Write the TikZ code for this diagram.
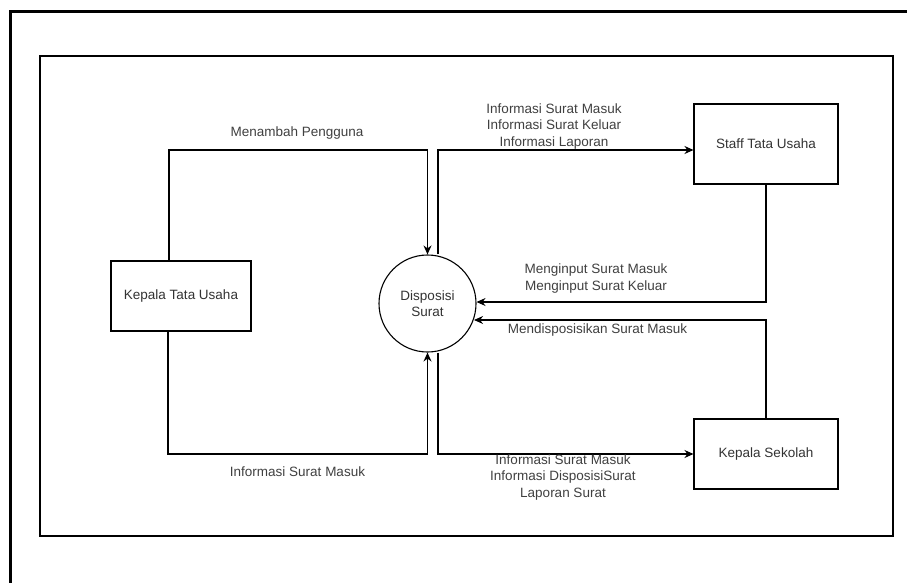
\documentclass[tikz,border=0pt]{standalone}
\usepackage{fontspec}
\setmainfont{Liberation Sans}
\usetikzlibrary{arrows.meta}
\begin{document}
\begin{tikzpicture}[x=1pt,y=-1pt,
  ent/.style={draw=black, line width=1.1pt, minimum width=140pt, minimum height=70pt,
    inner sep=0pt, font=\fontsize{13.5}{16}\selectfont, text=black!80},
  proc/.style={draw=black, circle, line width=1.1pt, minimum size=97pt, inner sep=0pt,
    align=center, font=\fontsize{13.5}{16.5}\selectfont, text=black!80},
  flow/.style={draw=black, line width=1.1pt, -{Stealth[length=9pt,width=8pt]}},
  lbl/.style={align=center, font=\fontsize{13.5}{16.5}\selectfont, text=black!75, inner sep=0pt}]
\useasboundingbox (0,0) rectangle (907,583);
\fill[white] (0,0) rectangle (907,583);
% outer frame (runs past the page at right and bottom)
\draw[line width=3pt] (10,590) -- (10,12) -- (915,12);
% inner frame
\draw[line width=1.3pt] (40,56) rectangle (893,536);

% entities and process
\node[ent] (kt) at (181,296) {Kepala Tata Usaha};
\node[proc] (ds) at (427.5,303.5) {Disposisi\\Surat};
\node[ent, minimum width=144pt, minimum height=80pt] (st) at (766,144) {Staff Tata Usaha};
\node[ent, minimum width=144pt, minimum height=70pt] (ks) at (766,454) {Kepala Sekolah};

% corner points of the orthogonal flows
\coordinate (a1) at (169,150);
\coordinate (a2) at (168,454);
\coordinate (b1) at (438,150);
\coordinate (b2) at (438,454);
\coordinate (r1) at (766,302);
\coordinate (r2) at (766,320);

% flows
\draw[flow] ([xshift=-12pt]kt.north) -- (a1) -| (ds.north);
\draw[flow] ([xshift=-13pt]kt.south) -- (a2) -| (ds.south);
\draw[flow] ([xshift=10.5pt]ds.north) -- (b1) -- (b1 -| st.west);
\draw[flow] ([xshift=10.5pt]ds.south) -- (b2) -- (b2 -| ks.west);
\draw[flow] (st.south) -- (r1) -- (r1 -| ds.east);
\draw[flow] (ks.north) -- (r2) -- ([xshift=-2.5pt]r2 -| ds.east);

% flow labels
\node[lbl] (l1) at (297,133) {Menambah Pengguna};
\node[lbl] (l2) at (297.5,472) {Informasi Surat Masuk};
\node[lbl] (l3) at (554,126.5) {Informasi Surat Masuk\\Informasi Surat Keluar\\Informasi Laporan};
\node[lbl] (l4) at (596,278.5) {Menginput Surat Masuk\\Menginput Surat Keluar};
\node[lbl] (l5) at (597.5,330) {Mendisposisikan Surat Masuk};
\node[lbl] (l6) at (563,477.5) {Informasi Surat Masuk\\Informasi DisposisiSurat\\Laporan Surat};
\end{tikzpicture}
\end{document}
